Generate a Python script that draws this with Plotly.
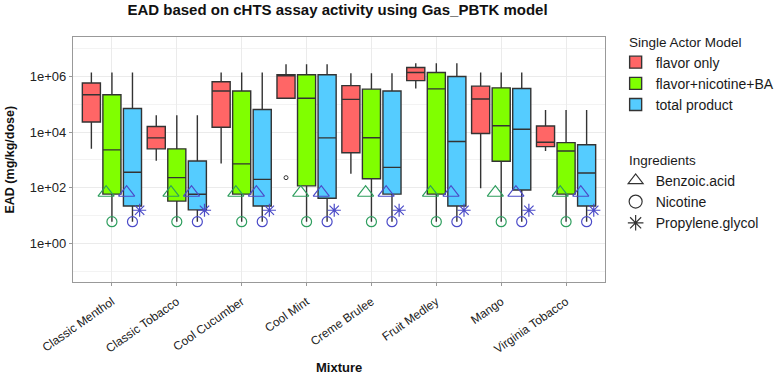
import plotly.graph_objects as go

mixtures = ["Classic Menthol", "Classic Tobacco", "Cool Cucumber", "Cool Mint",
            "Creme Brulee", "Fruit Medley", "Mango", "Virginia Tobacco"]
models = ["flavor only", "flavor+nicotine+BA", "total product"]

# box statistics per model (EAD, mg/kg/dose)
flavor_lower = [2.5e3, 930, 740, 1.66e5, 320, 3.7e5, 95, 2.1e3]
flavor_q1 = [2.3e4, 2.5e3, 1.5e4, 1.66e5, 1.8e3, 7.1e5, 8.9e3, 3.0e3]
flavor_median = [2.2e5, 6.2e3, 3.0e5, 1.15e6, 1.5e5, 1.4e6, 1.55e5, 4.3e3]
flavor_q3 = [5.8e5, 1.6e4, 6.5e5, 1.15e6, 4.7e5, 2.1e6, 4.5e5, 1.66e4]
flavor_upper = [1.4e6, 4.0e4, 1.4e6, 2.75e6, 1.3e6, 3.0e6, 1.4e6, 6.3e4]

fnb_lower = [6, 6, 6, 6, 6, 6, 6, 6]
fnb_q1 = [59, 33, 59, 117, 210, 59, 890, 59]
fnb_median = [2.3e3, 230, 720, 1.66e5, 6.3e3, 3.6e5, 1.7e4, 2.1e3]
fnb_q3 = [2.2e5, 2.5e3, 3.0e5, 1.15e6, 3.5e5, 1.4e6, 3.9e5, 4.2e3]
fnb_upper = [1.4e6, 4.0e4, 1.4e6, 2.75e6, 1.3e6, 3.0e6, 1.4e6, 6.3e4]

total_lower = [6, 6, 6, 6, 6, 6, 6, 6]
total_q1 = [22, 16, 22, 42, 59, 22, 83, 22]
total_median = [360, 58, 200, 6.2e3, 540, 4.6e3, 1.26e4, 340]
total_q3 = [7.1e4, 910, 6.5e4, 1.15e6, 3.0e5, 1.0e6, 3.7e5, 3.5e3]
total_upper = [1.4e6, 4.0e4, 1.4e6, 2.75e6, 1.3e6, 3.0e6, 1.4e6, 6.3e4]

# outlier (flavor only, Cool Mint)
outlier_mixture = ["Cool Mint"]
outlier_value = [230]

# ingredient EAD values
ingredients = ["Benzoic.acid", "Nicotine", "Propylene.glycol"]
benzoic_acid = [66] * 8
nicotine = [6] * 8
propylene_glycol = [15.5] * 8

y_tickvals = [1, 1e2, 1e4, 1e6]
y_ticktext = ["1e+00", "1e+02", "1e+04", "1e+06"]
y_minorvals = [1e-1, 1e1, 1e3, 1e5, 1e7]

# ---------------------------------------------------------------
box_fill = ["#FF6666", "#80FF00", "#55CCFF"]
green_pt = "#2E9E5E"
blue_pt = "#4B4BC8"
xpos = list(range(len(mixtures)))
slot = 0.95 / 3  # horizontal spacing between grouped boxes

fig = go.Figure()
stats = [
    (flavor_lower, flavor_q1, flavor_median, flavor_q3, flavor_upper),
    (fnb_lower, fnb_q1, fnb_median, fnb_q3, fnb_upper),
    (total_lower, total_q1, total_median, total_q3, total_upper),
]
for name, col, (lo, q1, med, q3, up) in zip(models, box_fill, stats):
    fig.add_trace(go.Box(
        x=xpos, q1=q1, median=med, q3=q3, lowerfence=lo, upperfence=up,
        name=name, fillcolor=col, line=dict(color="#333333", width=1.4),
        whiskerwidth=0, boxpoints=False, legend="legend",
    ))

# outlier point
fig.add_trace(go.Scatter(
    x=[mixtures.index(m) - slot for m in outlier_mixture], y=outlier_value,
    mode="markers", marker=dict(symbol="circle-open", size=4, color="#333333",
                                line=dict(width=1)),
    showlegend=False, hoverinfo="skip"))

def pts(offset, vals, symbol, color, size):
    fig.add_trace(go.Scatter(
        x=[i + offset for i in xpos], y=vals, mode="markers",
        marker=dict(symbol=symbol, size=size, color=color, line=dict(width=1.2, color=color)),
        showlegend=False, hoverinfo="skip"))

pts(-0.09, benzoic_acid, "triangle-up-open", green_pt, 14)
pts(slot - 0.09, benzoic_acid, "triangle-up-open", blue_pt, 14)
pts(0, nicotine, "circle-open", green_pt, 10)
pts(slot, nicotine, "circle-open", blue_pt, 10)
pts(slot + 0.11, propylene_glycol, "asterisk-open", blue_pt, 11)

# ingredient legend entries
for name, sym in zip(ingredients, ["triangle-up-open", "circle-open", "asterisk-open"]):
    fig.add_trace(go.Scatter(
        x=[None], y=[None], mode="markers", name=name, legend="legend2",
        marker=dict(symbol=sym, size=13, color="#333333", line=dict(width=1.2, color="#333333"))))

font_fam = "Liberation Sans, Arial, sans-serif"
L, R, T, B = 73, 177, 37, 94
W, H = 782, 376
PH = H - T - B
fig.update_layout(
    width=W, height=H,
    margin=dict(l=L, r=R, t=T, b=B, autoexpand=False),
    paper_bgcolor="white", plot_bgcolor="white",
    font=dict(family=font_fam, color="#1a1a1a", size=13),
    boxmode="group", boxgap=0.05, boxgroupgap=0.12,
    title=dict(text="<b>EAD based on cHTS assay activity using Gas_PBTK model</b>",
               x=337.5 / W, xanchor="center", y=1 - 10 / H, yanchor="middle",
               font=dict(size=15, color="#111111")),
    xaxis=dict(
        range=[-0.6, 7.6], tickvals=xpos, ticktext=mixtures, tickangle=-35,
        showgrid=True, gridcolor="#EBEBEB", gridwidth=1, zeroline=False,
        showline=True, mirror=True, linecolor="#999999", linewidth=1.2,
        ticks="outside", ticklen=3, tickcolor="#999999", automargin=False,
        ticklabelstandoff=4,
        tickfont=dict(size=12, color="#222222"),
    ),
    yaxis=dict(
        type="log", range=[-1.39, 7.42], tickmode="array", tickvals=y_tickvals, ticktext=y_ticktext,
        showgrid=True, gridcolor="#EBEBEB", gridwidth=1, zeroline=False,
        showline=True, mirror=True, linecolor="#999999", linewidth=1.2,
        ticks="outside", ticklen=3, tickcolor="#999999", automargin=False,
        tickfont=dict(size=13, color="#222222"),
        minor=dict(tickmode="array", tickvals=y_minorvals, showgrid=True,
                   gridcolor="#F3F3F3", ticks=""),
    ),
    annotations=[
        dict(text="<b>EAD (mg/kg/dose)</b>", xref="paper", yref="paper",
             x=-(L - 9) / (W - L - R), y=0.5, xanchor="center", yanchor="middle",
             textangle=-90, showarrow=False, font=dict(size=12.5, color="#111111")),
        dict(text="<b>Mixture</b>", xref="paper", yref="paper",
             x=0.5, y=-(367 - (H - B)) / PH, xanchor="center", yanchor="middle",
             showarrow=False, font=dict(size=13, color="#111111")),
    ],
    legend=dict(
        x=1.02, y=1 + (T - 29) / PH, xanchor="left", yanchor="top",
        title=dict(text="\u00a0\u00a0\u00a0Single Actor Model", font=dict(size=13.5)),
        font=dict(size=14), tracegroupgap=0, itemwidth=30, bgcolor="rgba(0,0,0,0)",
    ),
    legend2=dict(
        x=1.02, y=0.55, xanchor="left", yanchor="top",
        title=dict(text="\u00a0\u00a0\u00a0Ingredients", font=dict(size=13.5)),
        font=dict(size=14), itemwidth=30, bgcolor="rgba(0,0,0,0)",
    ),
)

fig.write_html("out.html", config={"displayModeBar": False},
               post_script="document.body.style.margin='0';")
